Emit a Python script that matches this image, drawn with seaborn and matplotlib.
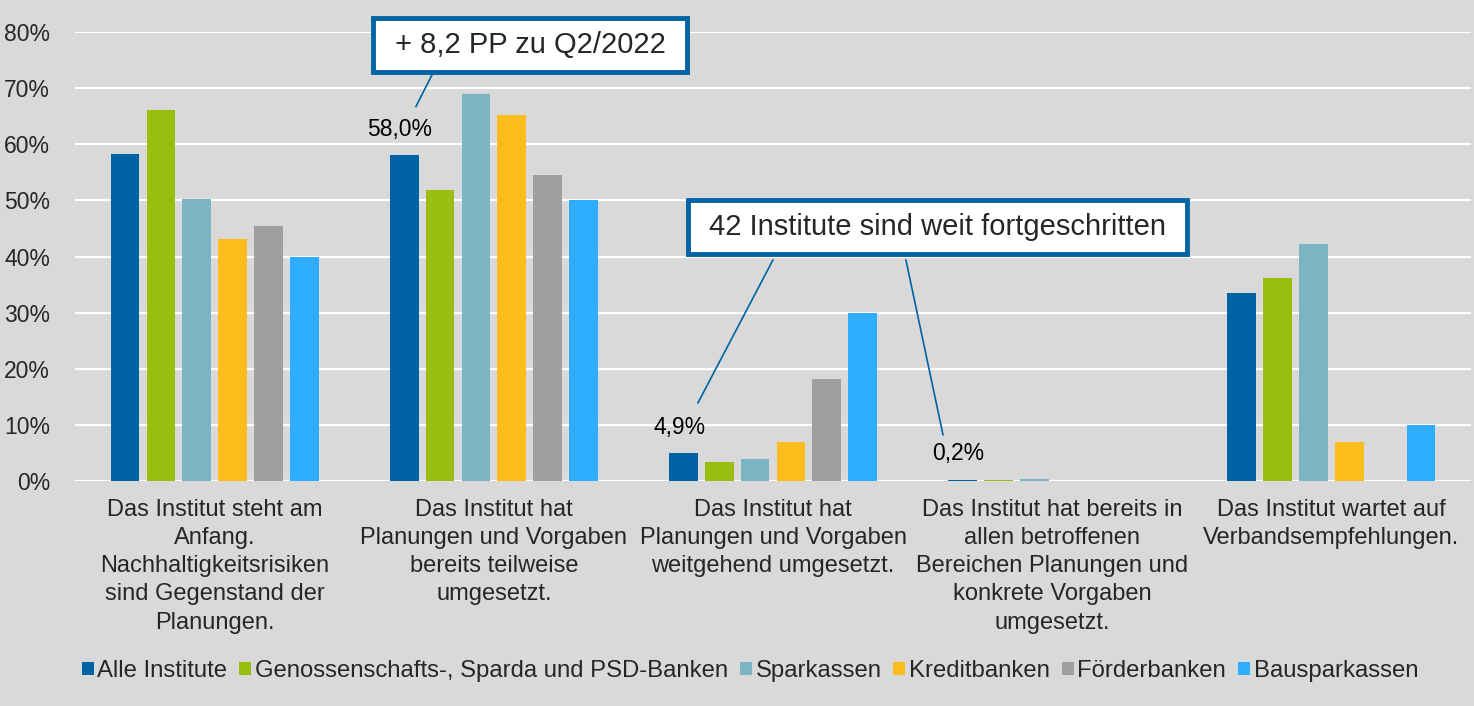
import pandas as pd
import matplotlib
matplotlib.use("Agg")
import matplotlib.pyplot as plt
import seaborn as sns

categories = [
    "Das Institut steht am\nAnfang.\nNachhaltigkeitsrisiken\nsind Gegenstand der\nPlanungen.",
    "Das Institut hat\nPlanungen und Vorgaben\nbereits teilweise\numgesetzt.",
    "Das Institut hat\nPlanungen und Vorgaben\nweitgehend umgesetzt.",
    "Das Institut hat bereits in\nallen betroffenen\nBereichen Planungen und\nkonkrete Vorgaben\numgesetzt.",
    "Das Institut wartet auf\nVerbandsempfehlungen.",
]
groups = ["Alle Institute", "Genossenschafts-, Sparda und PSD-Banken", "Sparkassen",
          "Kreditbanken", "Förderbanken", "Bausparkassen"]

alle = [58.3, 58.0, 4.9, 0.2, 33.5]
genossen = [66.1, 51.8, 3.4, 0.1, 36.2]
sparkassen = [50.2, 69.0, 3.9, 0.4, 42.3]
kreditbanken = [43.1, 65.2, 7.0, 0.0, 7.0]
foerderbanken = [45.5, 54.6, 18.2, 0.0, 0.0]
bausparkassen = [40.0, 50.0, 30.0, 0.0, 10.0]

colors = ["#0063a3", "#98bf0e", "#7bb4c3", "#fbbd1b", "#9e9fa1", "#2eacfe"]
blue = "#0063a3"

series = [alle, genossen, sparkassen, kreditbanken, foerderbanken, bausparkassen]
rows = []
for g, vals in zip(groups, series):
    for c, v in zip(categories, vals):
        rows.append({"Kategorie": c, "Gruppe": g, "Wert": v})
df = pd.DataFrame(rows)

sns.set_style("white")
plt.rcParams["font.family"] = ["Liberation Sans", "DejaVu Sans"]

fig = plt.figure(figsize=(14.74, 7.06), dpi=100, facecolor="#d9d9d9")
ax = fig.add_axes([75 / 1474, 1 - 481 / 706, 1396 / 1474, 449 / 706])
ax.set_facecolor("#d9d9d9")

sns.barplot(data=df, x="Kategorie", y="Wert", hue="Gruppe", order=categories,
            hue_order=groups, palette=dict(zip(groups, colors)), saturation=1,
            width=0.77, gap=0.2, linewidth=0, ax=ax)

ax.set_ylim(0, 80)
ax.set_xlim(-0.5, 4.5)
ax.set_yticks(range(0, 90, 10))
ax.set_yticklabels([f"{v}%" for v in range(0, 90, 10)])
ax.set_xticks(range(len(categories)))
ax.set_xticklabels(categories, linespacing=1.36)
ax.yaxis.grid(True, color="white", linewidth=1.6)
ax.set_axisbelow(True)
for s in ax.spines.values():
    s.set_visible(False)
ax.set_xlabel("")
ax.set_ylabel("")
ax.tick_params(axis="y", length=0, pad=18, labelsize=16.5)
ax.tick_params(axis="x", length=0, pad=13, labelsize=17)

# value labels on "Alle Institute"
offs = -0.321
for i in [1, 2, 3]:
    ax.text(i + offs - 0.015, alle[i] + 2.6, f"{alle[i]:.1f}%".replace(".", ","),
            ha="center", va="bottom", fontsize=16.5, color="black")

# callout boxes
box = dict(boxstyle="square,pad=0.45", facecolor="white", edgecolor=blue, linewidth=3.5)
ax.text(1.13, 77.7, " + 8,2 PP zu Q2/2022 ", ha="center", va="center",
        fontsize=21, bbox=box, clip_on=False, zorder=5)
ax.text(2.59, 45.3, " 42 Institute sind weit fortgeschritten ", ha="center", va="center",
        fontsize=21, bbox=box, clip_on=False, zorder=5)
ax.plot([0.779, 0.721], [72.4, 66.7], color=blue, linewidth=1.2, clip_on=False, zorder=4)
ax.plot([2.0, 1.731], [39.4, 13.9], color=blue, linewidth=1.2, zorder=4)
ax.plot([2.476, 2.609], [39.4, 8.2], color=blue, linewidth=1.2, zorder=4)

ax.legend(loc="center", bbox_to_anchor=(750 / 1474, 1 - 671 / 706),
          bbox_transform=fig.transFigure, ncol=6, frameon=False, fontsize=17.2,
          handlelength=0.5, handleheight=0.5, handletextpad=0.15, columnspacing=0.5,
          borderaxespad=0)

fig.savefig("out.png", dpi=100, facecolor=fig.get_facecolor())
